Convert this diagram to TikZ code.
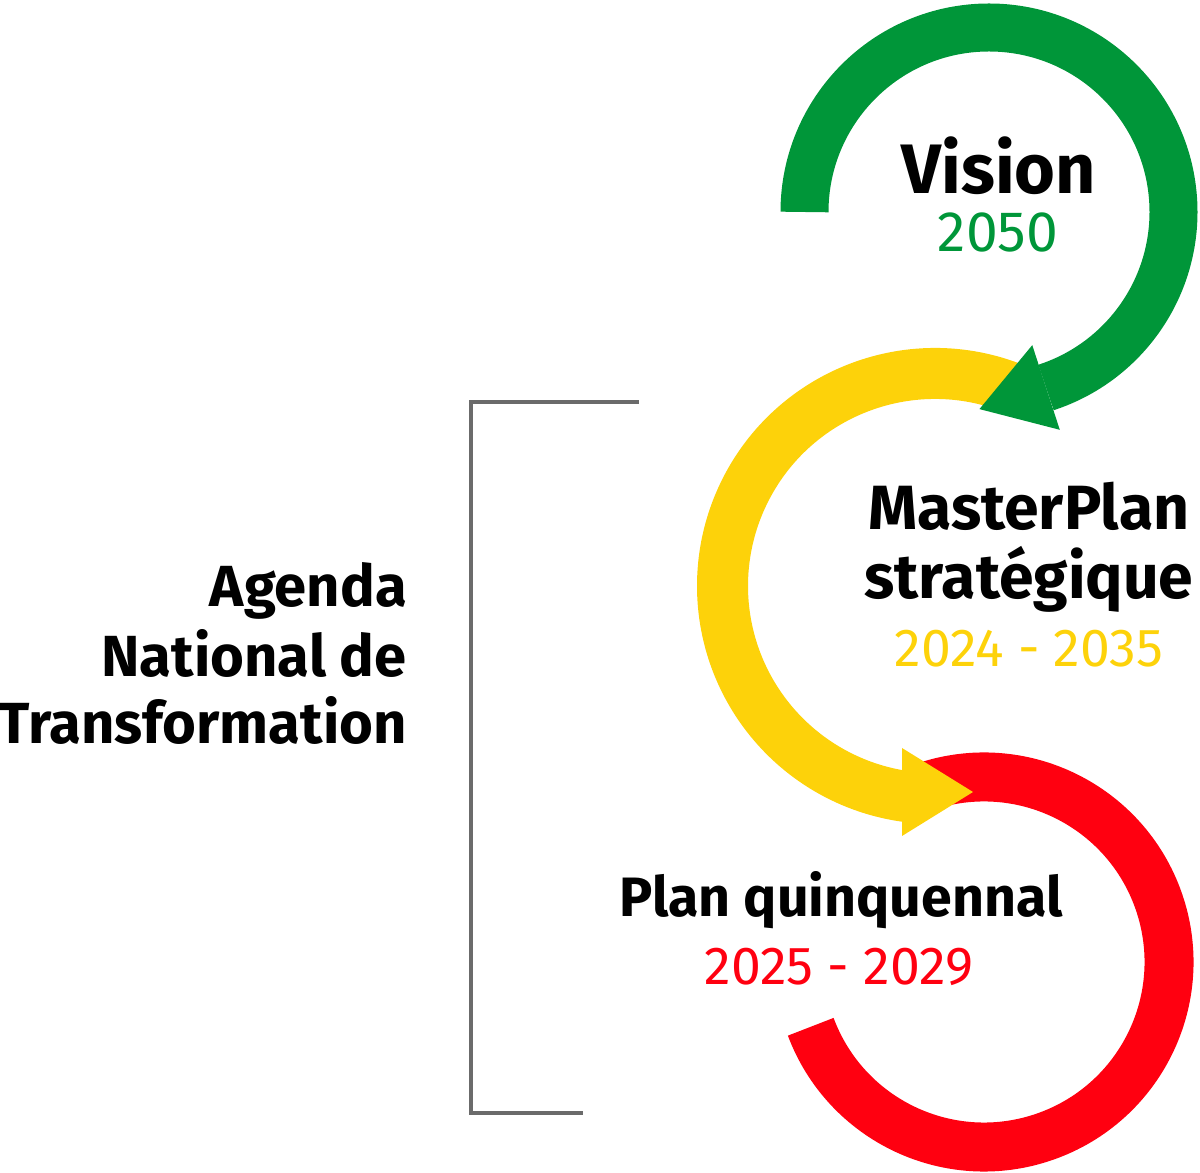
\documentclass[tikz,border=0pt]{standalone}
\usepackage{fontspec}
\setmainfont{Fira Sans}
\usetikzlibrary{calc}
\definecolor{visiongreen}{HTML}{009639}
\definecolor{planyellow}{HTML}{FDD20A}
\definecolor{quinred}{HTML}{FF0010}
\definecolor{bracketgray}{HTML}{6B6B6B}

\begin{document}
\begin{tikzpicture}[x=1pt, y=1pt,
    band/.style={line width=#1},
    title/.style={font=\bfseries\fontsize{#1}{#1}\selectfont, inner sep=0pt},
    years/.style={font=\fontsize{#1}{#1}\selectfont, inner sep=0pt}]

      \useasboundingbox (0,0) rectangle (1200,1173);

      \coordinate (Gc) at (989,961);
      \coordinate (Yc) at (935,587);
      \coordinate (Rc) at (984,211);
      \coordinate (Gend) at ($(Gc)+(-72:184.5pt)$);
      \coordinate (Yhead) at (902,381);

      % red ring
      \draw[quinred, band=49pt] ($(Rc)+(109:185pt)$) arc[start angle=109, end angle=-159.5, radius=185pt];
      % yellow ring
      \draw[planyellow, band=51pt] ($(Yc)+(66:212.5pt)$) arc[start angle=66, end angle=263, radius=212.5pt];
      \fill[planyellow] ($(Yhead)+(0,44)$) -- ($(Yhead)+(71,0)$) -- ($(Yhead)+(0,-44)$) -- cycle;
      % green ring
      \draw[visiongreen, band=48pt] ($(Gc)+(180:184.5pt)$) arc[start angle=180, end angle=-72, radius=184.5pt];
      \fill[visiongreen] ($(Gend)+(-72:44.5pt)$) -- ($(Gend)+(-162:70pt)$) -- ($(Gend)+(108:44.5pt)$) -- cycle;

      \node[title=70, anchor=base] (vision) at (999,979) {Vision};
      \node[years=57, text=visiongreen, anchor=base] (vyear) at (998,921) {2050};
      \node[title=62.5, anchor=base] (master) at (1029,643) {MasterPlan};
      \node[title=62.5, anchor=base] (strat) at ([yshift=-69pt]master.base) {stratégique};
      \node[years=53.5, text=planyellow, anchor=base] (myear) at ([yshift=-68pt]strat.base) {2024 - 2035};
      \node[title=55.5, anchor=base] (quin) at (841,256) {Plan quinquennal};
      \node[years=53.5, text=quinred, anchor=base] (qyear) at (839,188) {2025 - 2029};
      \node[title=58, anchor=base east] (agenda) at (407,566) {Agenda};
      \node[title=58, anchor=base east] (national) at ([yshift=-70pt]agenda.base east) {National de};
      \node[title=58, anchor=base east] (transf) at ([yshift=-67pt]national.base east) {Transformation};

      \draw[bracketgray, line width=4pt] (639,771) -- (471,771) -- (471,60.3) -- (583,60.3);
    \end{tikzpicture}
\end{document}
